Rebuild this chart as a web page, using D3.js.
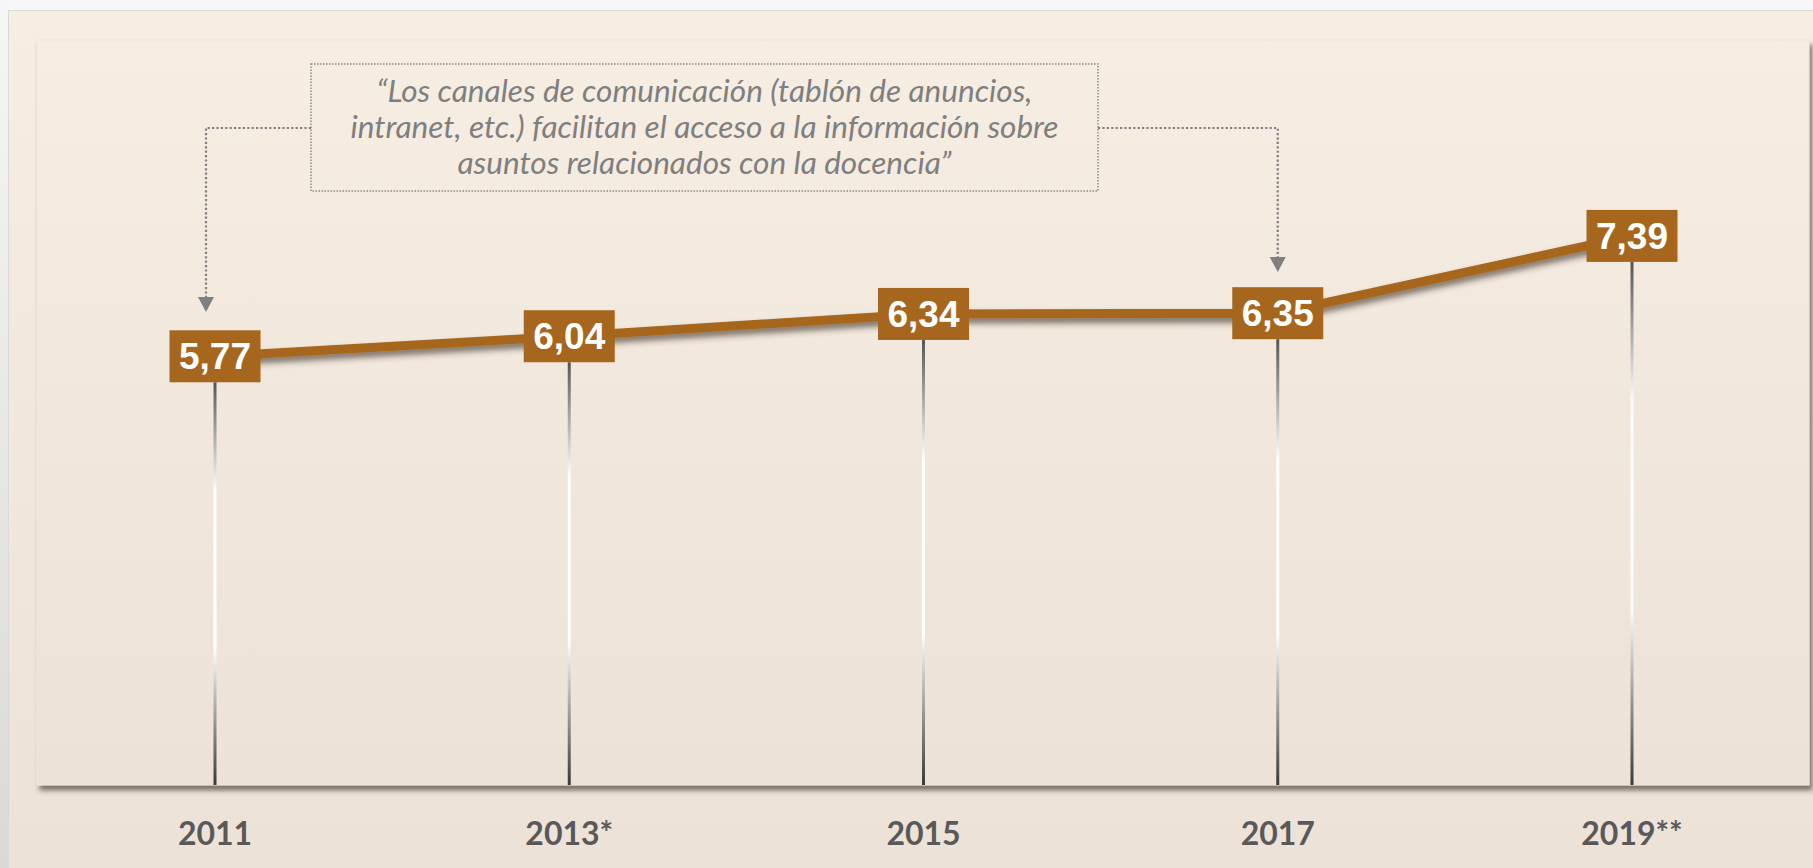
<!DOCTYPE html>
<html><head><meta charset="utf-8">
<script src="https://cdn.jsdelivr.net/npm/d3@7"></script>
<style>body{margin:0;background:#f7f7f7;overflow:hidden}</style>
</head><body>
<svg id="c" width="1813" height="868"></svg>
<script>
const categories = ["2011", "2013*", "2015", "2017", "2019**"];
const values = [5.77, 6.04, 6.34, 6.35, 7.39];
const yDomain = [0, 10];
const annotationLines = [
  "\u201CLos canales de comunicación (tablón de anuncios,",
  "intranet, etc.) facilitan el acceso a la información sobre",
  "asuntos relacionados con la docencia\u201D"
];
const annotationTargets = ["2011", "2017"];

const W = 1813, H = 868;
const plot = {left: 37, top: 40, right: 1809, bottom: 785};
const brown = "#a6661d";

const svg = d3.select("#c");
const defs = svg.append("defs");

const lg = defs.append("linearGradient").attr("id","leftStrip").attr("x1",0).attr("y1",0).attr("x2",0).attr("y2",1);
lg.append("stop").attr("offset","0%").attr("stop-color","#f6f6f6");
lg.append("stop").attr("offset","100%").attr("stop-color","#d9d9d9");

const pg = defs.append("linearGradient").attr("id","panel").attr("x1",0).attr("y1",0).attr("x2",0).attr("y2",1);
pg.append("stop").attr("offset","0%").attr("stop-color","#f6ede3");
pg.append("stop").attr("offset","100%").attr("stop-color","#ece2d7");

const vg = defs.append("linearGradient").attr("id","vline").attr("x1",0).attr("y1",0).attr("x2",0).attr("y2",1);
[[0,"#555555"],[0.27,"#ffffff"],[0.66,"#ffffff"],[1,"#3a3a3a"]].forEach(([o,c]) =>
  vg.append("stop").attr("offset",o).attr("stop-color",c));

const sh = defs.append("filter").attr("id","plotShadow").attr("x","-2%").attr("y","-2%").attr("width","104%").attr("height","106%");
sh.append("feDropShadow").attr("dx",3).attr("dy",5).attr("stdDeviation",2.5).attr("flood-color","#3e342a").attr("flood-opacity",0.65);

const ls = defs.append("filter").attr("id","lineShadow").attr("x","-5%").attr("y","-50%").attr("width","110%").attr("height","200%");
ls.append("feDropShadow").attr("dx",0).attr("dy",5).attr("stdDeviation",3).attr("flood-color","#3e3020").attr("flood-opacity",0.65);

svg.append("rect").attr("x",0).attr("y",0).attr("width",W).attr("height",H).attr("fill","#f7f7f7");
svg.append("rect").attr("x",0).attr("y",0).attr("width",9).attr("height",H).attr("fill","url(#leftStrip)");
svg.append("rect").attr("x",8).attr("y",10).attr("width",W-8).attr("height",H-10).attr("fill","#d8d8d8");
svg.append("rect").attr("x",9).attr("y",11).attr("width",W-9).attr("height",H-11).attr("fill","url(#panel)");

svg.append("rect").attr("x",plot.left).attr("y",plot.top)
  .attr("width",plot.right-plot.left).attr("height",plot.bottom-plot.top)
  .attr("fill","url(#panel)").attr("stroke","#efe5da").attr("stroke-width",1)
  .attr("filter","url(#plotShadow)");

const x = d3.scalePoint().domain(categories).range([215, 1632]);
const y = d3.scaleLinear().domain(yDomain).range([plot.bottom, 42]);

const data = categories.map((c,i) => ({cat:c, v:values[i]}));
const fmt = v => d3.format(".2f")(v).replace(".", ",");

svg.append("g").selectAll("rect").data(data).join("rect")
  .attr("x", d => x(d.cat) - 1.5).attr("width", 3)
  .attr("y", d => y(d.v) + 26).attr("height", d => plot.bottom - y(d.v) - 26)
  .attr("fill", "url(#vline)");

const line = d3.line().x(d => x(d.cat)).y(d => y(d.v));
svg.append("path").datum(data).attr("d", line)
  .attr("fill","none").attr("stroke",brown).attr("stroke-width",9)
  .attr("filter","url(#lineShadow)");

const bw = 91, bh = 52;
const g = svg.append("g").selectAll("g").data(data).join("g")
  .attr("transform", d => `translate(${x(d.cat)},${y(d.v)})`);
g.append("rect").attr("x",-bw/2).attr("y",-bh/2).attr("width",bw).attr("height",bh).attr("fill",brown);
g.append("text").attr("text-anchor","middle").attr("y",13)
  .attr("font-family","'Liberation Sans', Arial, sans-serif").attr("font-weight","bold")
  .attr("font-size",37).attr("fill","#ffffff").text(d => fmt(d.v));

svg.append("g").selectAll("text").data(categories).join("text")
  .attr("x", d => x(d)).attr("y", 845).attr("text-anchor","middle")
  .attr("font-family","Lato, 'Open Sans', sans-serif").attr("font-weight","bold")
  .attr("font-size",32).attr("fill","#595959").text(d => d);

const box = {x0: 311, x1: 1098, y0: 64, y1: 191};
const cx = (box.x0 + box.x1) / 2, cy = (box.y0 + box.y1) / 2;
svg.append("rect").attr("x",box.x0).attr("y",box.y0).attr("width",box.x1-box.x0).attr("height",box.y1-box.y0)
  .attr("fill","none").attr("stroke","#8a8a8a").attr("stroke-width",1.5).attr("stroke-dasharray","1.5,1.5");

const at = svg.append("g").selectAll("text").data(annotationLines).join("text")
  .attr("x", cx).attr("y", (d,i) => cy + (i-1)*36 + 10).attr("text-anchor","middle")
  .attr("font-family","Lato, 'Open Sans', sans-serif").attr("font-style","italic")
  .attr("font-size",28).attr("fill","#7f7f7f").text(d => d);
const w2 = at.nodes()[1].getComputedTextLength();
const fs = 28 * 708 / w2;
at.attr("font-size", fs);

const connY = 128;
const dotted = {stroke:"#808080", "stroke-width":2.2, "stroke-dasharray":"2.2,2.2", fill:"none"};
const lx = x(annotationTargets[0]) - 9, rx = x(annotationTargets[1]);
const conn = [
  {pts: [[box.x0, connY],[lx, connY],[lx, 298]], tip: [lx, 312]},
  {pts: [[box.x1, connY],[rx, connY],[rx, 258]], tip: [rx, 272]}
];
conn.forEach(c => {
  const p = svg.append("path").attr("d", d3.line()(c.pts));
  Object.entries(dotted).forEach(([k,v]) => p.attr(k,v));
  const [tx, ty] = c.tip;
  svg.append("path").attr("d", `M${tx-8},${ty-15}L${tx+8},${ty-15}L${tx},${ty}Z`).attr("fill","#7f7f7f");
});
</script>
</body></html>
